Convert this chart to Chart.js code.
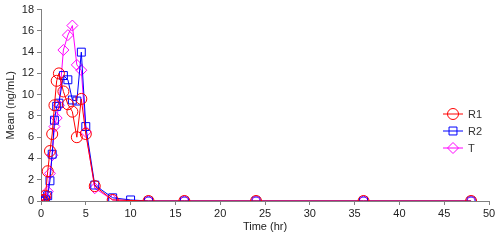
<!DOCTYPE html>
<html>
<head>
<meta charset="utf-8">
<script src="https://cdn.jsdelivr.net/npm/chart.js@4/dist/chart.umd.min.js"></script>
<style>
  html, body { margin: 0; padding: 0; background: #fff; }
  #wrap { width: 500px; height: 243px; }
</style>
</head>
<body>
<div id="wrap"><canvas id="pkChart"></canvas></div>
<script>
// time points (hr) and mean concentrations (ng/mL)
const timesR1 = [0, 0.25, 0.5, 0.75, 1, 1.25, 1.5, 1.75, 2, 2.5, 3, 3.5, 4, 4.5, 5, 6, 8, 12, 16, 24, 36, 48];
const valuesR1 = [0, 0.1, 0.5, 2.8, 4.7, 6.3, 9.0, 11.3, 12.0, 10.3, 9.1, 8.4, 6.0, 9.6, 6.3, 1.4, 0.1, 0, 0, 0, 0, 0];

const timesR2 = [0, 0.25, 0.5, 0.75, 1, 1.25, 1.5, 1.75, 2, 2.5, 3, 3.5, 4, 4.5, 5, 6, 8, 10, 12, 16, 24, 36, 48];
const valuesR2 = [0, 0, 0.1, 0.5, 1.9, 4.4, 7.6, 8.9, 9.2, 11.8, 11.4, 9.5, 9.4, 14.0, 7.0, 1.5, 0.3, 0.1, 0, 0, 0, 0, 0];

const timesT = [0, 0.25, 0.5, 0.75, 1, 1.25, 1.5, 1.75, 2, 2.5, 3, 3.5, 4, 4.5, 5, 6, 8, 12, 16, 24, 36, 48];
const valuesT = [0, 0.1, 0.3, 0.9, 2.6, 4.3, 7.0, 7.8, 9.0, 14.2, 15.6, 16.5, 12.8, 12.3, 6.5, 1.2, 0.1, 0, 0, 0, 0, 0];

const xTicks = [0, 5, 10, 15, 20, 25, 30, 35, 40, 45, 50];
const yTicks = [0, 2, 4, 6, 8, 10, 12, 14, 16, 18];

function toPoints(ts, vs) {
    return ts.map((t, i) => ({ x: t, y: vs[i] }));
}

const series = [
    { label: 'R1', color: '#ff0000', style: 'circle', radius: 5.5, data: toPoints(timesR1, valuesR1) },
    { label: 'R2', color: '#0000ff', style: 'rect', radius: 5.6, data: toPoints(timesR2, valuesR2) },
    { label: 'T', color: '#ff00ff', style: 'rectRot', radius: 5.5, data: toPoints(timesT, valuesT) }
];

const fontFamily = '"Liberation Sans", Arial, sans-serif';

// legend drawn inside the plot, with a line through each marker
const lineLegend = {
    id: 'lineLegend',
    afterDraw(chart) {
        const ctx = chart.ctx;
        const x0 = 443, x1 = 463;
        ctx.save();
        series.forEach((s, i) => {
            const y = 114 + i * 17;
            ctx.strokeStyle = s.color;
            ctx.lineWidth = 1;
            ctx.beginPath();
            ctx.moveTo(x0, y);
            ctx.lineTo(x1, y);
            ctx.stroke();
            ctx.fillStyle = 'rgba(0,0,0,0)';
            Chart.helpers.drawPoint(ctx, { pointStyle: s.style, radius: s.radius, rotation: 0, borderWidth: 1 }, (x0 + x1) / 2, y);
            ctx.fillStyle = '#333';
            ctx.font = '11px ' + fontFamily;
            ctx.textBaseline = 'middle';
            ctx.fillText(s.label, 468, y + 1);
        });
        ctx.restore();
    }
};

const ctx = document.getElementById('pkChart').getContext('2d');
new Chart(ctx, {
    type: 'scatter',
    data: {
        datasets: series.map(s => ({
            label: s.label,
            data: s.data,
            showLine: true,
            borderColor: s.color,
            borderWidth: 1,
            backgroundColor: 'rgba(0,0,0,0)',
            pointStyle: s.style,
            pointRadius: s.radius,
            pointBorderColor: s.color,
            pointBorderWidth: 1,
            pointBackgroundColor: 'rgba(0,0,0,0)',
            tension: 0
        }))
    },
    options: {
        responsive: true,
        maintainAspectRatio: false,
        animation: false,
        layout: { padding: { left: 0, right: 11, top: 7, bottom: 0 } },
        plugins: {
            legend: { display: false },
            tooltip: { enabled: false }
        },
        scales: {
            x: {
                type: 'linear',
                min: 0,
                max: 50,
                afterBuildTicks: scale => { scale.ticks = xTicks.map(v => ({ value: v })); },
                afterFit: scale => { scale.height = 42; },
                grid: { drawOnChartArea: false, drawTicks: true, tickLength: 4, color: '#808080' },
                border: { display: true, color: '#808080' },
                ticks: { color: '#222', padding: 2, maxRotation: 0, font: { family: fontFamily, size: 11 } },
                title: { display: true, text: 'Time (hr)', color: '#222', padding: { top: 4, bottom: 9 }, font: { family: fontFamily, size: 11 } }
            },
            y: {
                min: 0,
                max: 18,
                afterBuildTicks: scale => { scale.ticks = yTicks.map(v => ({ value: v })); },
                afterFit: scale => { scale.width = 41; },
                grid: { drawOnChartArea: false, drawTicks: true, tickLength: 4, color: '#808080' },
                border: { display: true, color: '#808080' },
                ticks: { color: '#222', padding: 3, font: { family: fontFamily, size: 11 } },
                title: { display: true, text: 'Mean (ng/mL)', color: '#222', padding: { top: 4, bottom: 2 }, font: { family: fontFamily, size: 11 } }
            }
        }
    },
    plugins: [lineLegend]
});
</script>
</body>
</html>
